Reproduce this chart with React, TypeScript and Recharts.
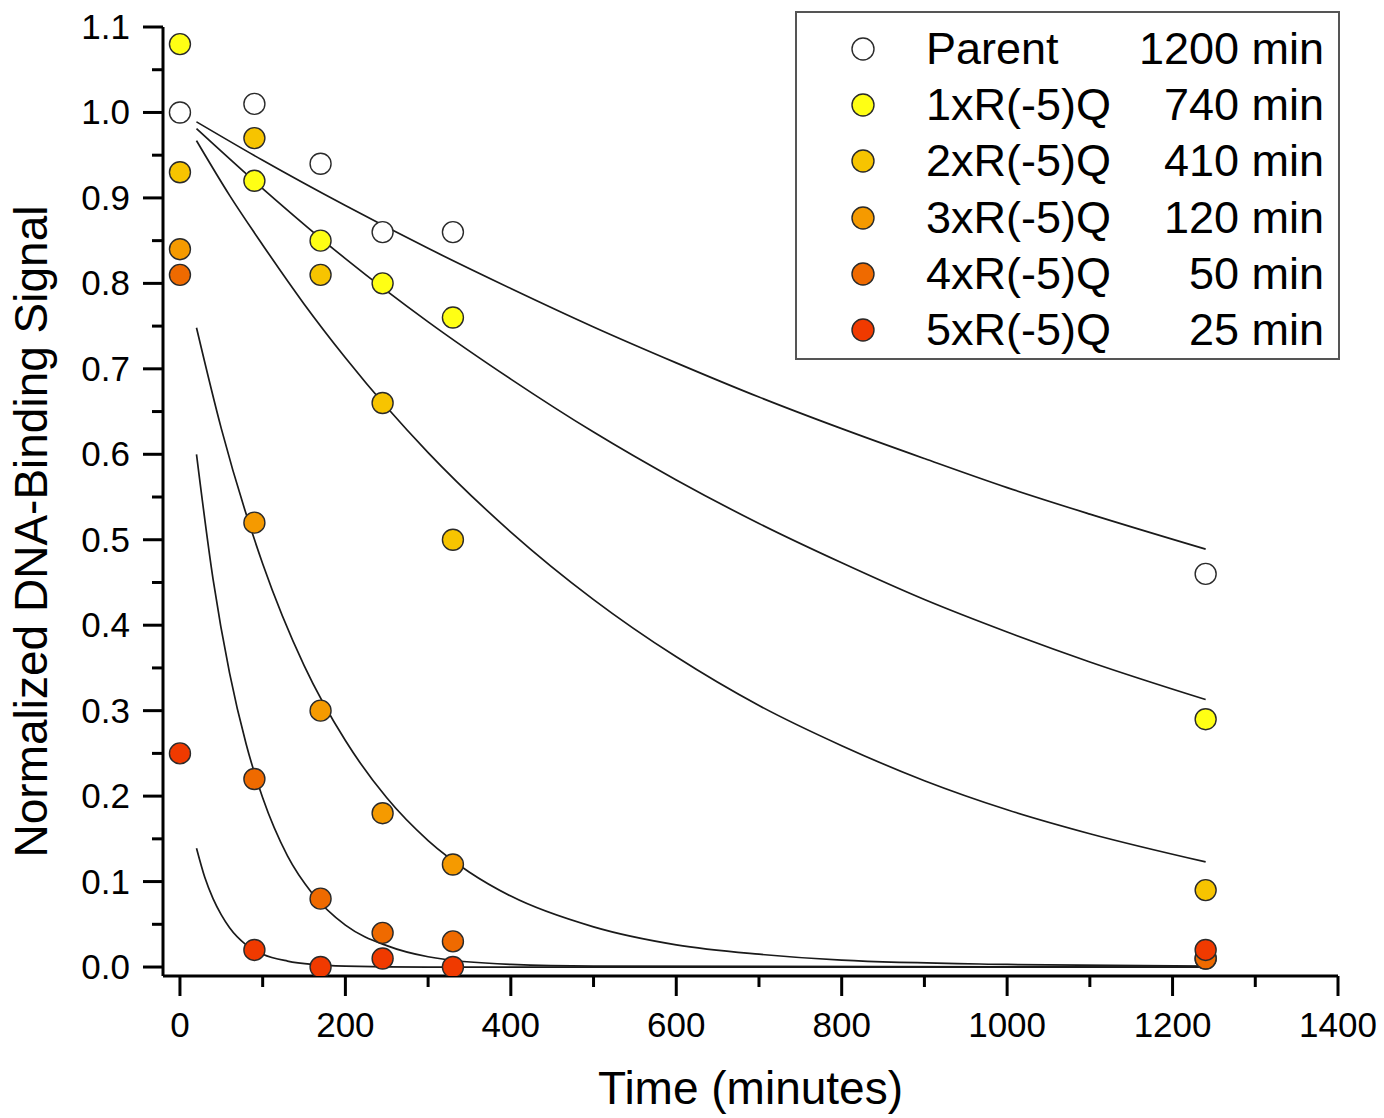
import React from 'react';
import { ComposedChart, Scatter, Line, XAxis, YAxis, Legend } from 'recharts';

const FONT = '"Liberation Sans", Arial, Helvetica, sans-serif';

// Sampling times (minutes)
const sampleTimes = [0, 90, 170, 245, 330, 1240];

const seriesNames = ['Parent', '1xR(-5)Q', '2xR(-5)Q', '3xR(-5)Q', '4xR(-5)Q', '5xR(-5)Q'];
const halfLives = ['1200 min', '740 min', '410 min', '120 min', '50 min', '25 min'];
const seriesColors = ['#ffffff', '#ffff14', '#f7c400', '#f59a00', '#ef6a00', '#f03a00'];

// Measured normalized signal at each sampling time
const parentSignal = [1.0, 1.01, 0.94, 0.86, 0.86, 0.46];
const r1Signal = [1.08, 0.92, 0.85, 0.8, 0.76, 0.29];
const r2Signal = [0.93, 0.97, 0.81, 0.66, 0.5, 0.09];
const r3Signal = [0.84, 0.52, 0.3, 0.18, 0.12, 0.01];
const r4Signal = [0.81, 0.22, 0.08, 0.04, 0.03, 0.01];
const r5Signal = [0.25, 0.02, 0.0, 0.01, 0.0, 0.02];

// Fitted decay curves
const slowFitTimes = [20, 100, 200, 300, 400, 500, 600, 700, 800, 900, 1000, 1100, 1240];
const parentFit = [0.989, 0.944, 0.891, 0.841, 0.794, 0.749, 0.707, 0.667, 0.63, 0.595, 0.561, 0.53, 0.489];
const r1Fit = [0.981, 0.911, 0.829, 0.755, 0.688, 0.626, 0.57, 0.519, 0.473, 0.43, 0.392, 0.357, 0.313];
const r2FitTimes = [20, 60, 100, 150, 200, 250, 300, 400, 500, 600, 700, 800, 900, 1000, 1100, 1240];
const r2Fit = [0.967, 0.903, 0.845, 0.776, 0.713, 0.655, 0.602, 0.509, 0.43, 0.363, 0.306, 0.259, 0.218, 0.184, 0.156, 0.123];
const r3FitTimes = [20, 50, 100, 150, 200, 250, 300, 350, 400, 500, 600, 700, 800, 1000, 1240];
const r3Fit = [0.748, 0.63, 0.472, 0.353, 0.265, 0.198, 0.148, 0.111, 0.083, 0.047, 0.026, 0.015, 0.008, 0.003, 0.001];
const r4FitTimes = [20, 40, 60, 80, 100, 130, 160, 200, 250, 300, 400, 500, 1240];
const r4Fit = [0.6, 0.454, 0.344, 0.261, 0.198, 0.13, 0.086, 0.049, 0.025, 0.012, 0.003, 0.001, 0.0];
const r5FitTimes = [20, 30, 40, 50, 60, 80, 100, 130, 160, 200, 300, 1240];
const r5Fit = [0.139, 0.105, 0.08, 0.061, 0.046, 0.026, 0.015, 0.007, 0.003, 0.001, 0.0, 0.0];

// Axis ticks
const xMajorTicks = [0, 200, 400, 600, 800, 1000, 1200, 1400];
const xMinorTicks = [100, 300, 500, 700, 900, 1100, 1300];
const yMajorTicks = [0, 0.1, 0.2, 0.3, 0.4, 0.5, 0.6, 0.7, 0.8, 0.9, 1.0, 1.1];
const yMinorTicks = [0.05, 0.15, 0.25, 0.35, 0.45, 0.55, 0.65, 0.75, 0.85, 0.95, 1.05];

const toPoints = (ts: number[], vs: number[]) => ts.map((t, i) => ({ t, v: vs[i] }));

const measured = [parentSignal, r1Signal, r2Signal, r3Signal, r4Signal, r5Signal].map((s) =>
  toPoints(sampleTimes, s)
);
const fits = [
  toPoints(slowFitTimes, parentFit),
  toPoints(slowFitTimes, r1Fit),
  toPoints(r2FitTimes, r2Fit),
  toPoints(r3FitTimes, r3Fit),
  toPoints(r4FitTimes, r4Fit),
  toPoints(r5FitTimes, r5Fit),
];

const isMajor = (list: number[], v: number) => list.some((m) => Math.abs(m - v) < 1e-6);

const XTick = (props: any) => {
  const { x, y, payload } = props;
  const major = isMajor(xMajorTicks, payload.value);
  return (
    <g>
      <line x1={x} y1={y} x2={x} y2={y + (major ? 20 : 11)} stroke="#000" strokeWidth={3} />
      {major && (
        <text x={x} y={y + 61} textAnchor="middle" fontSize={35} fontFamily={FONT} fill="#000">
          {payload.value}
        </text>
      )}
    </g>
  );
};

const YTick = (props: any) => {
  const { x, y, payload } = props;
  const major = isMajor(yMajorTicks, payload.value);
  return (
    <g>
      <line x1={x} y1={y} x2={x - (major ? 20 : 11)} y2={y} stroke="#000" strokeWidth={3} />
      {major && (
        <text x={x - 33} y={y + 12} textAnchor="end" fontSize={35} fontFamily={FONT} fill="#000">
          {Number(payload.value).toFixed(1)}
        </text>
      )}
    </g>
  );
};

const XTitle = (props: any) => {
  const vb = props.viewBox || { x: 163, y: 976, width: 1175, height: 142 };
  return (
    <text x={vb.x + vb.width / 2} y={vb.y + 128} textAnchor="middle" fontSize={46} fontFamily={FONT} fill="#000">
      Time (minutes)
    </text>
  );
};

const YTitle = (props: any) => {
  const vb = props.viewBox || { x: 0, y: 27, width: 163, height: 949 };
  const cx = vb.x + 47;
  const cy = vb.y + vb.height / 2 + 30;
  return (
    <text
      x={cx}
      y={cy}
      transform={`rotate(-90 ${cx} ${cy})`}
      textAnchor="middle"
      fontSize={46}
      fontFamily={FONT}
      fill="#000"
    >
      Normalized DNA-Binding Signal
    </text>
  );
};

const Dot = (color: string) => (props: any) =>
  <circle cx={props.cx} cy={props.cy} r={10.5} fill={color} stroke="#2a2a2a" strokeWidth={1.4} />;

const LegendBox = () => (
  <div
    style={{
      boxSizing: 'border-box',
      width: 545,
      height: 349,
      border: '2px solid #555',
      background: '#fff',
      paddingTop: 8,
      fontFamily: FONT,
      fontSize: 45,
      color: '#000',
    }}
  >
    {seriesNames.map((name, i) => (
      <div key={name} style={{ position: 'relative', height: 56.2, lineHeight: '56px' }}>
        <svg width={26} height={26} style={{ position: 'absolute', left: 53, top: 15 }}>
          <circle cx={13} cy={13} r={11} fill={seriesColors[i]} stroke="#2a2a2a" strokeWidth={1.4} />
        </svg>
        <span style={{ position: 'absolute', left: 129 }}>{name}</span>
        <span style={{ position: 'absolute', right: 14 }}>{halfLives[i]}</span>
      </div>
    ))}
  </div>
);

const App: React.FC = () => {
  return (
    <div style={{ position: 'absolute', left: 0, top: 0, width: 1384, height: 1118, background: '#fff' }}>
      <ComposedChart width={1384} height={1118} margin={{ top: 27, right: 46, bottom: 0, left: 0 }}>
        <XAxis
          type="number"
          dataKey="t"
          domain={[-20.5, 1400]}
          allowDataOverflow
          ticks={[...xMajorTicks, ...xMinorTicks].sort((a, b) => a - b)}
          interval={0}
          height={142}
          tickSize={0}
          tickMargin={0}
          tickLine={false}
          tick={<XTick />}
          axisLine={{ stroke: '#000', strokeWidth: 3 }}
          label={<XTitle />}
        />
        <YAxis
          type="number"
          domain={[-0.0105, 1.1]}
          allowDataOverflow
          ticks={[...yMajorTicks, ...yMinorTicks].sort((a, b) => a - b)}
          interval={0}
          width={163}
          tickSize={0}
          tickMargin={0}
          tickLine={false}
          tick={<YTick />}
          axisLine={{ stroke: '#000', strokeWidth: 3 }}
          label={<YTitle />}
        />
        {measured.map((pts, i) => (
          <Scatter
            key={seriesNames[i]}
            name={seriesNames[i]}
            data={pts}
            dataKey="v"
            fill={seriesColors[i]}
            shape={Dot(seriesColors[i])}
            isAnimationActive={false}
          />
        ))}
        {fits.map((pts, i) => (
          <Line
            key={`fit-${seriesNames[i]}`}
            data={pts}
            dataKey="v"
            type="monotone"
            stroke="#1a1a1a"
            strokeWidth={1.7}
            dot={false}
            activeDot={false}
            legendType="none"
            isAnimationActive={false}
          />
        ))}
        <Legend
          layout="vertical"
          align="center"
          verticalAlign="middle"
          content={<LegendBox />}
          wrapperStyle={{ left: 795, top: 11, width: 545, height: 349 }}
        />
      </ComposedChart>
    </div>
  );
};

export default App;
